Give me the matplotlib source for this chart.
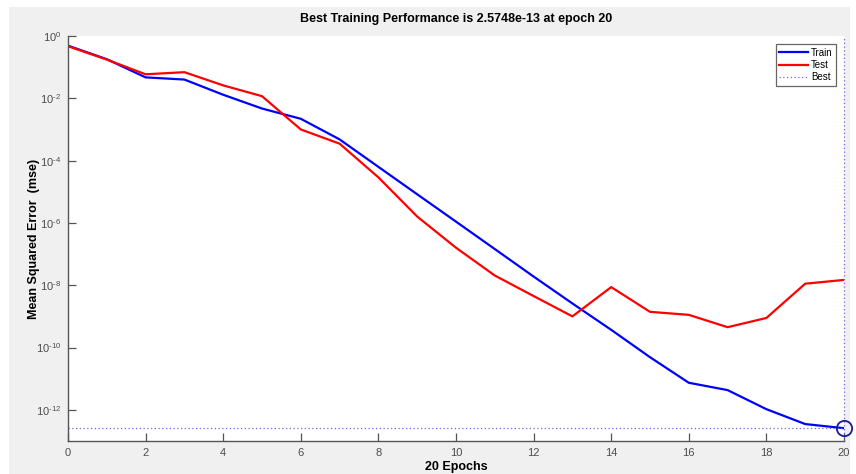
import numpy as np
import matplotlib
matplotlib.use("Agg")
import matplotlib.pyplot as plt
from matplotlib.patches import Rectangle
from matplotlib.ticker import FuncFormatter, NullLocator

plt.rcParams["font.family"] = ["Liberation Sans", "DejaVu Sans"]
plt.rcParams["mathtext.fontset"] = "custom"
plt.rcParams["mathtext.rm"] = "Liberation Sans"

# performance per epoch (mse)
epochs = list(range(21))
train_mse = [4.9e-1, 1.8e-1, 4.7e-2, 4.0e-2, 1.3e-2, 4.7e-3, 2.2e-3, 4.8e-4,
             6.3e-5, 8.3e-6, 1.1e-6, 1.45e-7, 1.9e-8, 2.6e-9, 3.7e-10, 4.9e-11,
             7.4e-12, 4.3e-12, 1.05e-12, 3.5e-13, 2.5748e-13]
test_mse = [4.7e-1, 1.75e-1, 5.9e-2, 6.9e-2, 2.6e-2, 1.17e-2, 1.0e-3, 3.5e-4,
            2.9e-5, 1.6e-6, 1.6e-7, 2.05e-8, 4.5e-9, 1.0e-9, 8.7e-9, 1.4e-9,
            1.12e-9, 4.5e-10, 8.9e-10, 1.12e-8, 1.48e-8]
best_epoch = 20
best_perf = 2.5748e-13

fig = plt.figure(figsize=(8.56, 4.74), dpi=100)
fig.patch.set_facecolor("white")
fig.patches.append(Rectangle((9 / 856, 0), 841 / 856, 467 / 474,
                             transform=fig.transFigure, facecolor="#f0f0f0",
                             edgecolor="none", zorder=-10))

ax = fig.add_axes([68 / 856, 1 - 441 / 474, 776 / 856, 405 / 474])
ax.set_facecolor("white")

ax.semilogy(epochs, train_mse, color="#0000ff", lw=1.6, label="Train")
ax.semilogy(epochs, test_mse, color="#ff0000", lw=1.6, label="Test")
ax.axhline(best_perf, color="#6b6bd8", lw=0.9, ls=(0, (1, 2)), label="Best")
ax.axvline(best_epoch, color="#6b6bd8", lw=0.9, ls=(0, (1, 2)), clip_on=False)
ax.plot([best_epoch], [best_perf], "o", ms=11, mfc="none", mec="#1a1a99",
        mew=1.3, clip_on=False, zorder=5)

ax.set_xlim(0, 20)
ax.set_ylim(1e-13, 1)
ax.set_xticks(range(0, 21, 2))
ax.set_yticks([10.0 ** k for k in range(-12, 1, 2)])
ax.yaxis.set_minor_locator(NullLocator())
ax.yaxis.set_major_formatter(
    FuncFormatter(lambda v, pos: r"$10^{%s}$" % str(int(round(np.log10(v)))).replace("-", "\\text{-}")))

for side in ["top", "right"]:
    ax.spines[side].set_visible(False)
for side in ["left", "bottom"]:
    ax.spines[side].set_color("#555555")
    ax.spines[side].set_linewidth(1.0)
ax.tick_params(direction="in", length=6, width=0.9, colors="#555555",
               labelsize=8, labelcolor="#4d4d4d", pad=5)

ax.set_title("Best Training Performance is 2.5748e-13 at epoch 20",
             fontsize=9, fontweight="bold", pad=10)
ax.set_xlabel("20 Epochs", fontsize=9, fontweight="bold", labelpad=2)
ax.set_ylabel("Mean Squared Error  (mse)", fontsize=9, fontweight="bold")
ax.yaxis.set_label_coords(-0.036, 0.5)

leg = ax.legend(loc="upper right", bbox_to_anchor=(0.99, 0.98), fontsize=7,
                fancybox=False, framealpha=1, edgecolor="#666666",
                handlelength=3, borderpad=0.35, labelspacing=0.25,
                handletextpad=0.3, borderaxespad=0)
leg.get_frame().set_linewidth(0.9)

fig.savefig("out.png", dpi=100, facecolor=fig.get_facecolor())
